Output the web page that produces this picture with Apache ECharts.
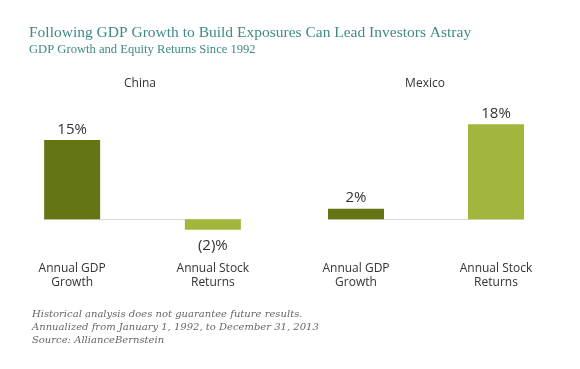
<!DOCTYPE html>
<html>
<head>
<meta charset="utf-8">
<script src="https://cdn.jsdelivr.net/npm/echarts@6/dist/echarts.min.js"></script>
<style>
html,body{margin:0;padding:0;background:#fff;}
#chart{width:580px;height:369px;}
</style>
</head>
<body>
<div id="chart"></div>
<script>
const mainTitle = 'Following GDP Growth to Build Exposures Can Lead Investors Astray';
const subTitle = 'GDP Growth and Equity Returns Since 1992';
const categories = ['Annual GDP\nGrowth', 'Annual Stock\nReturns'];
const panelNames = ['China', 'Mexico'];
const chinaValues = [15, -2];
const mexicoValues = [2, 18];
const footnotes = [
  'Historical analysis does not guarantee future results.',
  'Annualized from January 1, 1992, to December 31, 2013',
  'Source: AllianceBernstein'
];

const barColors = ['#647514', '#a2b63e'];
const sans = '"Open Sans", "Noto Sans", sans-serif';
const serif = '"Liberation Serif", serif';
const noteSerif = '"DejaVu Serif", serif';

function fmtPct(v) { return v < 0 ? '(' + Math.abs(v) + ')%' : v + '%'; }

const chart = echarts.init(document.getElementById('chart'), null, {renderer: 'canvas'});

const grids = [
  {left: 44, top: 113.6, width: 197, height: 132},
  {left: 328, top: 113.6, width: 196, height: 132}
];
const panelCenters = [135, 420];

function makeSeries(values, idx) {
  return {
    type: 'bar',
    xAxisIndex: idx,
    yAxisIndex: idx,
    barWidth: 56,
    silent: true,
    data: values.map((v, i) => ({
      value: [i, v],
      itemStyle: {color: barColors[i]},
      label: {position: v < 0 ? 'bottom' : 'top', distance: v < 0 ? 8 : 3}
    })),
    label: {
      show: true,
      formatter: p => fmtPct(p.value[1]),
      fontSize: 15,
      color: '#333',
      fontFamily: sans
    }
  };
}

function makeXAxis(idx) {
  return {
    type: 'value',
    gridIndex: idx,
    min: -0.2,
    max: 1.2,
    axisLine: {show: true, onZero: true, lineStyle: {color: '#d9d9d9', width: 1}},
    axisTick: {show: false},
    splitLine: {show: false},
    axisLabel: {
      customValues: [0, 1],
      formatter: v => categories[Math.round(v)],
      margin: 16,
      fontSize: 12,
      lineHeight: 14,
      color: '#333',
      fontFamily: sans
    }
  };
}

function makeYAxis(idx) {
  return {type: 'value', gridIndex: idx, min: -5, max: 20, show: false};
}

const option = {
  backgroundColor: '#fff',
  animation: false,
  title: [
    {text: mainTitle, left: 24, top: 20, textStyle: {fontFamily: serif, fontWeight: 'normal', fontSize: 15.5, color: '#3f8a85'}},
    {text: subTitle, left: 24, top: 38, textStyle: {fontFamily: serif, fontWeight: 'normal', fontSize: 12.6, color: '#3f8a85'}},
    {text: panelNames[0], left: panelCenters[0], top: 73, textAlign: 'center', textStyle: {fontFamily: sans, fontWeight: 'normal', fontSize: 12, color: '#333'}},
    {text: panelNames[1], left: panelCenters[1], top: 73, textAlign: 'center', textStyle: {fontFamily: sans, fontWeight: 'normal', fontSize: 12, color: '#333'}},
    {text: footnotes.join('\n'), left: 27, top: 303, textStyle: {fontFamily: noteSerif, fontStyle: 'italic', fontWeight: 'normal', fontSize: 10, lineHeight: 12.8, color: '#666'}}
  ],
  grid: grids,
  xAxis: [makeXAxis(0), makeXAxis(1)],
  yAxis: [makeYAxis(0), makeYAxis(1)],
  series: [makeSeries(chinaValues, 0), makeSeries(mexicoValues, 1)]
};
chart.setOption(option);
</script>
</body>
</html>
